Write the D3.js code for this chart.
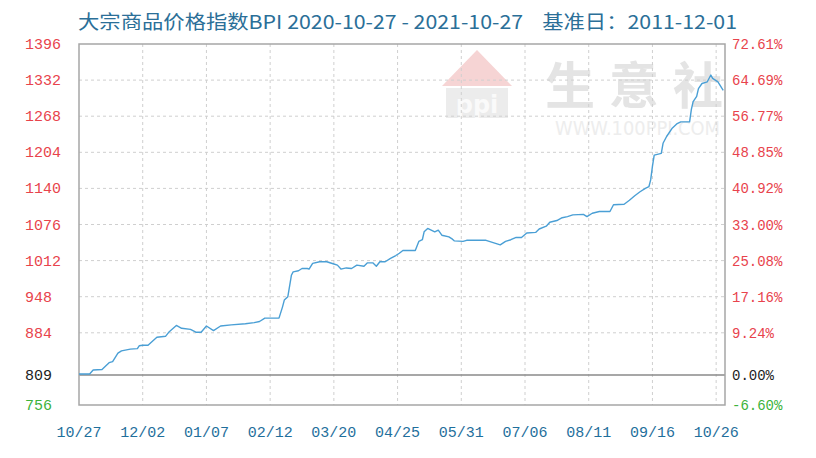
<!DOCTYPE html>
<html>
<head>
<meta charset="utf-8">
<script src="https://cdn.jsdelivr.net/npm/d3@7"></script>
<style>
  body { margin: 0; background: #fff; }
  svg { display: block; }
</style>
</head>
<body>
<svg id="chart" width="816" height="458"></svg>
<script>
// BPI index, days counted from 2020-10-27
var days = [0, 6, 8, 13, 17, 19, 22, 24, 29, 33, 34, 36, 39, 44, 49, 51, 55, 58, 63, 66, 69, 72, 76, 80, 86, 94, 99,
  102, 105, 113, 115, 116, 118, 120, 121, 124, 126, 129, 130, 132, 136, 140, 144, 146, 148, 151, 154, 157, 161, 163,
  166, 168, 170, 173, 176, 179, 181, 183, 190, 192, 194, 195, 197, 199, 201, 203, 205, 209, 211, 212, 217, 219, 230,
  234, 238, 241, 244, 247, 250, 253, 258, 260, 264, 266, 270, 273, 276, 279, 285, 287, 290, 294, 300, 302, 308, 311,
  314, 317, 320, 322, 323, 324, 325, 329, 330, 332, 335, 338, 340, 345, 346, 347, 349, 350, 352, 355, 357, 358, 361, 364];
var values = [811, 811, 818, 819, 831, 833, 848, 852, 855, 856, 861, 862, 862, 876, 878, 886, 897, 892, 890, 885, 885, 896, 888, 896, 898, 900, 902,
  904, 910, 910, 930, 942, 948, 986, 992, 994, 998, 998, 997, 1007, 1010, 1010, 1006, 1004, 997, 999, 998, 1004, 1002, 1008,
  1008, 1002, 1010, 1010, 1016, 1021, 1025, 1030, 1030, 1046, 1049, 1063, 1069, 1066, 1063, 1066, 1057, 1054, 1050, 1047, 1046, 1048, 1048,
  1044, 1040, 1046, 1049, 1053, 1053, 1061, 1062, 1068, 1073, 1080, 1083, 1088, 1090, 1093, 1094, 1090, 1096, 1099, 1099, 1111, 1112, 1119,
  1127, 1134, 1140, 1143, 1155, 1179, 1199, 1202, 1220, 1232, 1246, 1255, 1258, 1258, 1280, 1294, 1303, 1317, 1326, 1329, 1341, 1335, 1329, 1314];

var yTicks = [1396, 1332, 1268, 1204, 1140, 1076, 1012, 948, 884, 809, 756];
var pctLabels = ["72.61%", "64.69%", "56.77%", "48.85%", "40.92%", "33.00%", "25.08%", "17.16%", "9.24%", "0.00%", "-6.60%"];
var xTickDays = [0, 36, 72, 108, 144, 180, 216, 252, 288, 324, 360];
var xTickLabels = ["10/27", "12/02", "01/07", "02/12", "03/20", "04/25", "05/31", "07/06", "08/11", "09/16", "10/26"];
var base = 809;

var svg = d3.select("#chart");
var pl = 79, pr = 725, pt = 44, pb = 405;

var x = d3.scaleLinear().domain([0, 365]).range([pl, pr]);
var y = d3.scaleLinear().domain([756, 1396]).range([pb, pt]);

function labelColor(v) {
  if (v > base) return "#e8434c";
  if (v < base) return "#3cb33c";
  return "#222";
}

// title
svg.append("text")
  .attr("x", 78).attr("y", 29)
  .attr("font-family", "'Noto Sans CJK SC', sans-serif")
  .attr("font-size", 19)
  .attr("fill", "#2b6f98")
  .attr("textLength", 659)
  .attr("lengthAdjust", "spacingAndGlyphs")
  .text("大宗商品价格指数BPI 2020-10-27 - 2021-10-27\u00a0\u00a0\u00a0\u00a0基准日：2011-12-01");

// watermark
var wm = svg.append("g");
wm.append("path")
  .attr("d", "M477,50 L442,86 L512,86 Z")
  .attr("fill", "#f6d4d4");
wm.append("rect").attr("x", 446).attr("y", 88).attr("width", 62).attr("height", 30).attr("fill", "#ececec");
wm.append("text")
  .attr("x", 477).attr("y", 113).attr("text-anchor", "middle")
  .attr("font-family", "'DejaVu Sans', sans-serif").attr("font-weight", "bold")
  .attr("font-size", 24).attr("fill", "#fafafa")
  .text("ppi");
wm.append("text")
  .attr("x", 545).attr("y", 104)
  .attr("font-family", "'Noto Sans CJK SC', sans-serif").attr("font-weight", "bold")
  .attr("font-size", 50).attr("fill", "#e4e4e4")
  .attr("letter-spacing", 14)
  .text("生意社");
wm.append("text")
  .attr("x", 555).attr("y", 135)
  .attr("font-family", "'DejaVu Sans', sans-serif")
  .attr("font-size", 20).attr("fill", "#ededed")
  .attr("textLength", 165)
  .attr("lengthAdjust", "spacingAndGlyphs")
  .text("WWW.100PPI.COM");

// grid
svg.append("g")
  .selectAll("line")
  .data(yTicks.filter(function(d) { return d != 1396 && d != 756 && d != base; }))
  .enter()
  .append("line")
  .attr("x1", pl).attr("x2", pr)
  .attr("y1", function(d) { return y(d); })
  .attr("y2", function(d) { return y(d); })
  .attr("stroke", "#cfcfcf")
  .attr("stroke-dasharray", "3,3");

svg.append("g")
  .selectAll("line")
  .data(xTickDays.slice(1))
  .enter()
  .append("line")
  .attr("y1", pt).attr("y2", pb)
  .attr("x1", function(d) { return x(d); })
  .attr("x2", function(d) { return x(d); })
  .attr("stroke", "#cfcfcf")
  .attr("stroke-dasharray", "3,3");

// base line
svg.append("line")
  .attr("x1", pl).attr("x2", pr)
  .attr("y1", y(base)).attr("y2", y(base))
  .attr("stroke", "#8a8a8a").attr("stroke-width", 1.5);

// frame
svg.append("rect")
  .attr("x", pl).attr("y", pt)
  .attr("width", pr - pl).attr("height", pb - pt)
  .attr("fill", "none").attr("stroke", "#a6a6a6").attr("stroke-width", 1.5);

// line
var line = d3.line()
  .x(function(d, i) { return x(days[i]); })
  .y(function(d) { return y(d); });

svg.append("path")
  .datum(values)
  .attr("d", line)
  .attr("fill", "none")
  .attr("stroke", "#4a9fd5")
  .attr("stroke-width", 1.4)
  .attr("stroke-linejoin", "round");

// left axis labels
svg.append("g")
  .selectAll("text")
  .data(yTicks)
  .enter()
  .append("text")
  .attr("x", 25)
  .attr("y", function(d) { return y(d) + 5; })
  .attr("font-family", "'Liberation Mono', monospace")
  .attr("font-size", 15)
  .attr("fill", labelColor)
  .text(function(d) { return d; });

// right axis labels
svg.append("g")
  .selectAll("text")
  .data(yTicks)
  .enter()
  .append("text")
  .attr("x", 732)
  .attr("y", function(d) { return y(d) + 5; })
  .attr("font-family", "'Liberation Mono', monospace")
  .attr("font-size", 14)
  .attr("fill", labelColor)
  .text(function(d, i) { return pctLabels[i]; });

// bottom labels
svg.append("g")
  .selectAll("text")
  .data(xTickDays)
  .enter()
  .append("text")
  .attr("x", function(d) { return x(d); })
  .attr("y", 437)
  .attr("text-anchor", "middle")
  .attr("font-family", "'Liberation Mono', monospace")
  .attr("font-size", 15)
  .attr("fill", "#1f6f9c")
  .text(function(d, i) { return xTickLabels[i]; });
</script>
</body>
</html>
